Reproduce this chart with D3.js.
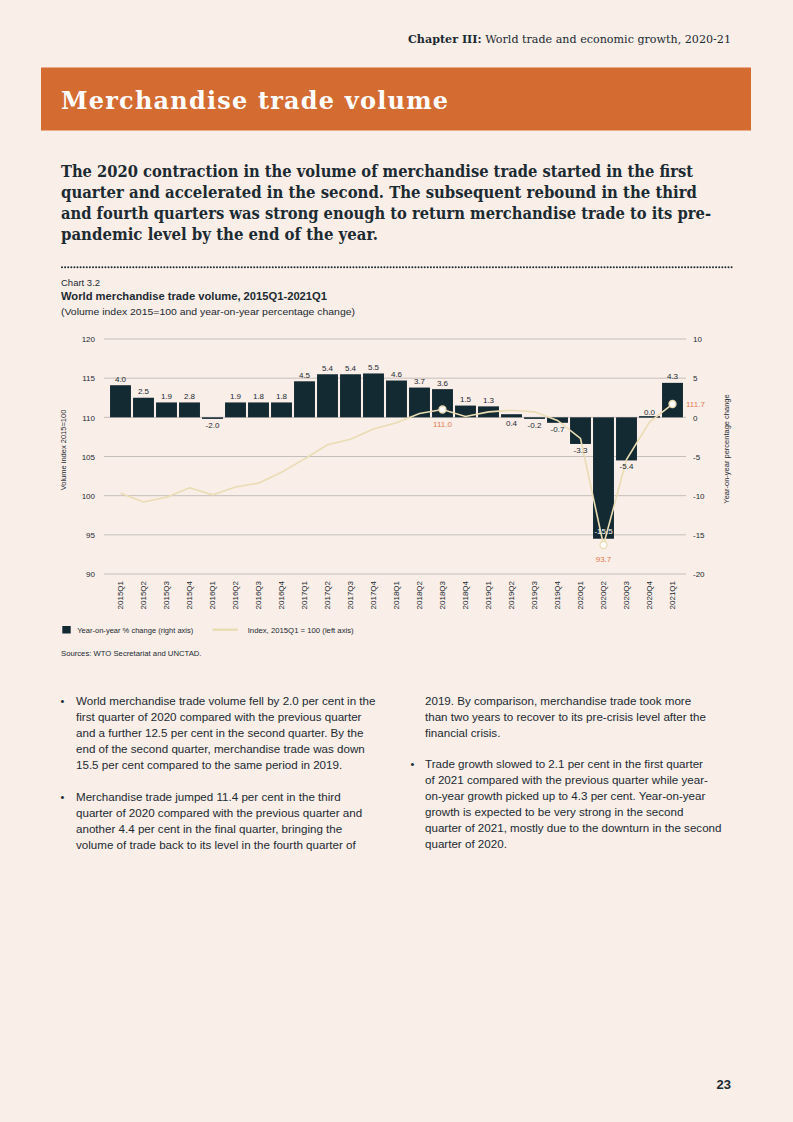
<!DOCTYPE html>
<html><head><meta charset="utf-8">
<script src="https://cdn.jsdelivr.net/npm/d3@7"></script>
<style>
html,body{margin:0;padding:0;background:#f9eee8;}
svg{display:block;}
</style></head>
<body>
<svg id="page" width="793" height="1122"></svg>
<script>
// ---------- data ----------
const categories = ["2015Q1","2015Q2","2015Q3","2015Q4","2016Q1","2016Q2","2016Q3","2016Q4",
  "2017Q1","2017Q2","2017Q3","2017Q4","2018Q1","2018Q2","2018Q3","2018Q4",
  "2019Q1","2019Q2","2019Q3","2019Q4","2020Q1","2020Q2","2020Q3","2020Q4","2021Q1"];
// bar heights as drawn in the reference (right axis)
const yoyValues = [4.1,2.5,1.9,1.9,-0.2,1.9,1.9,1.9,4.6,5.5,5.5,5.6,4.7,3.8,3.6,1.5,1.4,0.4,-0.2,-0.7,-3.4,-15.5,-5.5,0.0,4.4];
// bar labels as printed in the reference
const yoyLabels = ["4.0","2.5","1.9","2.8","-2.0","1.9","1.8","1.8","4.5","5.4","5.4","5.5","4.6","3.7","3.6","1.5","1.3","0.4","-0.2","-0.7","-3.3","-15.5","-5.4","0.0","4.3"];
// volume index (left axis)
const indexValues = [100.3,99.2,99.8,101.0,100.1,101.1,101.6,103.0,104.7,106.5,107.2,108.5,109.3,110.5,111.0,110.1,110.7,110.9,110.7,109.6,107.3,93.7,104.6,109.4,111.7];
const indexAnnotated = ["2018Q3","2020Q2","2021Q1"];
const leftTicks = [90,95,100,105,110,115,120];
const rightTicks = [-20,-15,-10,-5,0,5,10];
const labelBelowPositive = ["2019Q2"];
const labelInsideBar = ["2020Q2"];

const legendLabels = ["Year-on-year % change (right axis)","Index, 2015Q1 = 100 (left axis)"];
const subtitleLines = [
 "The 2020 contraction in the volume of merchandise trade started in the first",
 "quarter and accelerated in the second. The subsequent rebound in the third",
 "and fourth quarters was strong enough to return merchandise trade to its pre-",
 "pandemic level by the end of the year."];
const leftBullets = [
 ["World merchandise trade volume fell by 2.0 per cent in the",
  "first quarter of 2020 compared with the previous quarter",
  "and a further 12.5 per cent in the second quarter. By the",
  "end of the second quarter, merchandise trade was down",
  "15.5 per cent compared to the same period in 2019."],
 ["Merchandise trade jumped 11.4 per cent in the third",
  "quarter of 2020 compared with the previous quarter and",
  "another 4.4 per cent in the final quarter, bringing the",
  "volume of trade back to its level in the fourth quarter of"]];
const rightBullets = [
 [null,"2019. By comparison, merchandise trade took more",
  "than two years to recover to its pre-crisis level after the",
  "financial crisis."],
 ["Trade growth slowed to 2.1 per cent in the first quarter",
  "of 2021 compared with the previous quarter while year-",
  "on-year growth picked up to 4.3 per cent. Year-on-year",
  "growth is expected to be very strong in the second",
  "quarter of 2021, mostly due to the downturn in the second",
  "quarter of 2020."]];

// ---------- styles ----------
const C = {bg:"#f9eee8", orange:"#d46b31", dark:"#1c2a32", bar:"#142a33", grid:"#c4bfbb",
  line:"#eadcb3", anno:"#e27b4e"};
const SLAB = "'DejaVu Serif', serif";
const SLABC = "'DejaVu Serif Condensed', 'DejaVu Serif', serif";
const SANS = "'Liberation Sans', Arial, sans-serif";

const svg = d3.select("#page");
svg.append("rect").attr("width",793).attr("height",1122).attr("fill",C.bg);

// header
svg.append("text").attr("x",731).attr("y",43).attr("text-anchor","end")
  .attr("font-family",SLAB).attr("font-size",11).attr("fill",C.dark)
  .attr("textLength",323).attr("lengthAdjust","spacingAndGlyphs")
  .call(t=>{t.append("tspan").attr("font-weight","bold").text("Chapter III:");
            t.append("tspan").text(" World trade and economic growth, 2020-21");});
svg.append("rect").attr("x",41).attr("y",67.5).attr("width",710).attr("height",63).attr("fill",C.orange);
svg.append("text").attr("x",61).attr("y",109).attr("font-family",SLAB).attr("font-weight","bold")
  .attr("font-size",24).attr("fill","#ffffff").attr("letter-spacing",1.2)
  .text("Merchandise trade volume");

const subW = [632,636,650,317];
subtitleLines.forEach((s,i)=>{
  svg.append("text").attr("x",61).attr("y",176.7+i*21).attr("font-family",SLABC).attr("font-weight","bold")
    .attr("font-size",16.5).attr("fill",C.dark).attr("textLength",subW[i]).attr("lengthAdjust","spacingAndGlyphs").text(s);
});
svg.append("line").attr("x1",62).attr("x2",733).attr("y1",267.3).attr("y2",267.3)
  .attr("stroke",C.dark).attr("stroke-width",2).attr("stroke-linecap","round").attr("stroke-dasharray","0,3.1");

svg.append("text").attr("x",61).attr("y",286).attr("font-family",SANS).attr("font-size",9.5).attr("fill",C.dark).text("Chart 3.2");
svg.append("text").attr("x",61).attr("y",299.5).attr("font-family",SANS).attr("font-weight","bold").attr("font-size",10.5)
  .attr("fill",C.dark).attr("textLength",266).attr("lengthAdjust","spacingAndGlyphs").text("World merchandise trade volume, 2015Q1-2021Q1");
svg.append("text").attr("x",61).attr("y",314.5).attr("font-family",SANS).attr("font-size",9.5)
  .attr("fill",C.dark).attr("textLength",294).attr("lengthAdjust","spacingAndGlyphs").text("(Volume index 2015=100 and year-on-year percentage change)");

// ---------- chart ----------
const x = d3.scaleBand().domain(categories).range([109,684]).paddingInner(0.09).paddingOuter(0.045);
const yL = d3.scaleLinear().domain([90,120]).range([574,339]);
const yR = d3.scaleLinear().domain([-20,10]).range([574,339]);
const g = svg.append("g");

// gridlines
g.selectAll(".grid").data(leftTicks).join("line")
  .attr("x1",104).attr("x2",686).attr("y1",d=>yL(d)).attr("y2",d=>yL(d))
  .attr("stroke",C.grid).attr("stroke-width",1);

// left axis
const axL = d3.axisLeft(yL).tickValues(leftTicks).tickSize(0).tickPadding(0).tickFormat(d=>String(d));
g.append("g").attr("transform","translate(95,0)").call(axL)
  .call(a=>a.select(".domain").remove())
  .call(a=>a.selectAll("text").attr("font-family",SANS).attr("font-size",8).attr("fill",C.dark).attr("dy","0.35em"));
// right axis
const axR = d3.axisRight(yR).tickValues(rightTicks).tickSize(0).tickPadding(0).tickFormat(d=>String(d));
g.append("g").attr("transform","translate(693,0)").call(axR)
  .call(a=>a.select(".domain").remove())
  .call(a=>a.selectAll("text").attr("font-family",SANS).attr("font-size",8).attr("fill",C.dark).attr("dy","0.35em"));
// bottom axis (category labels)
const axB = d3.axisBottom(x).tickSize(0).tickPadding(0);
g.append("g").attr("transform","translate(0,581)").call(axB)
  .call(a=>a.select(".domain").remove())
  .call(a=>a.selectAll("text").attr("font-family",SANS).attr("font-size",8).attr("fill",C.dark)
     .attr("text-anchor","end").attr("transform","rotate(-90)").attr("x",0).attr("y",0).attr("dx",0).attr("dy","0.35em"));

// axis titles
svg.append("text").attr("transform","translate(66,450) rotate(-90)").attr("text-anchor","middle")
  .attr("font-family",SANS).attr("font-size",7.5).attr("fill",C.dark).text("Volume index 2015=100");
svg.append("text").attr("transform","translate(729,449) rotate(-90)").attr("text-anchor","middle")
  .attr("font-family",SANS).attr("font-size",7.5).attr("fill",C.dark).text("Year-on-year percentage change");

// bars
const bars = categories.map((c,i)=>({c,v:yoyValues[i],lab:yoyLabels[i]}));
g.selectAll(".bar").data(bars).join("rect")
  .attr("x",d=>x(d.c)).attr("width",x.bandwidth())
  .attr("y",d=>Math.min(yR(0),yR(d.v)) - (d.v===0?1.2:0))
  .attr("height",d=>Math.max(1.5,Math.abs(yR(d.v)-yR(0))))
  .attr("fill",C.bar);

// line
const pts = categories.map((c,i)=>({c,v:indexValues[i]}));
const line = d3.line().x(d=>x(d.c)+x.bandwidth()/2).y(d=>yL(d.v));
g.append("path").datum(pts).attr("d",line).attr("fill","none").attr("stroke",C.line).attr("stroke-width",1.6);

// bar labels
g.selectAll(".blab").data(bars).join("text")
  .attr("x",d=>x(d.c)+x.bandwidth()/2)
  .attr("y",d=>{
    if(labelInsideBar.includes(d.c)) return yR(d.v)-5;
    if(labelBelowPositive.includes(d.c)) return yR(0)+8.5;
    return d.v>=0 ? Math.min(yR(0),yR(d.v))-(d.v===0?2.5:3.5) : yR(d.v)+9;
  })
  .attr("text-anchor","middle").attr("font-family",SANS).attr("font-size",8)
  .attr("fill",d=>labelInsideBar.includes(d.c)?"#ffffff":C.dark).text(d=>d.lab);

// annotated index points
const ann = pts.filter(d=>indexAnnotated.includes(d.c));
g.selectAll(".dot").data(ann).join("circle")
  .attr("cx",d=>x(d.c)+x.bandwidth()/2).attr("cy",d=>yL(d.v)).attr("r",3.5)
  .attr("fill","#ffffff").attr("stroke",C.line).attr("stroke-width",1.3);
g.selectAll(".alab").data(ann).join("text")
  .attr("x",(d,i)=> i===ann.length-1 ? x(d.c)+x.bandwidth()/2+13.5 : x(d.c)+x.bandwidth()/2)
  .attr("y",(d,i)=> i===ann.length-1 ? yL(d.v)+3 : yL(d.v)+17)
  .attr("text-anchor",(d,i)=> i===ann.length-1 ? "start":"middle")
  .attr("font-family",SANS).attr("font-size",8).attr("fill",C.anno).text(d=>d.v.toFixed(1));

// legend
svg.append("rect").attr("x",62.3).attr("y",626).attr("width",8.4).attr("height",7.5).attr("fill",C.bar);
svg.append("text").attr("x",77.3).attr("y",632.5).attr("font-family",SANS).attr("font-size",7.5).attr("fill",C.dark)
  .attr("textLength",116).attr("lengthAdjust","spacingAndGlyphs").text(legendLabels[0]);
svg.append("line").attr("x1",212.7).attr("x2",237.7).attr("y1",629.7).attr("y2",629.7).attr("stroke",C.line).attr("stroke-width",2.5);
svg.append("text").attr("x",247.7).attr("y",632.5).attr("font-family",SANS).attr("font-size",7.5).attr("fill",C.dark)
  .attr("textLength",106).attr("lengthAdjust","spacingAndGlyphs").text(legendLabels[1]);
svg.append("text").attr("x",61).attr("y",656).attr("font-family",SANS).attr("font-size",7.5).attr("fill",C.dark)
  .attr("textLength",140.5).attr("lengthAdjust","spacingAndGlyphs").text("Sources: WTO Secretariat and UNCTAD.");

// body text
function column(blocks, bx, tx, starts){
  blocks.forEach((lines,bi)=>{
    let y0 = starts[bi];
    if(lines[0]!==null){
      svg.append("text").attr("x",bx).attr("y",y0+4).attr("font-family",SANS).attr("font-size",11).attr("fill",C.dark).text("•");
    }
    lines.filter(l=>l!==null).forEach((l,li)=>{
      svg.append("text").attr("x",tx).attr("y",y0+4+li*16).attr("font-family",SANS).attr("font-size",11.6)
        .attr("fill",C.dark).text(l);
    });
  });
}
column(leftBullets,60.5,76,[700.7,796.7]);
column(rightBullets,410.5,425,[700.7,764]);

svg.append("text").attr("x",731).attr("y",1089).attr("text-anchor","end").attr("font-family",SANS)
  .attr("font-weight","bold").attr("font-size",13).attr("fill",C.dark).text("23");
</script>
</body></html>
